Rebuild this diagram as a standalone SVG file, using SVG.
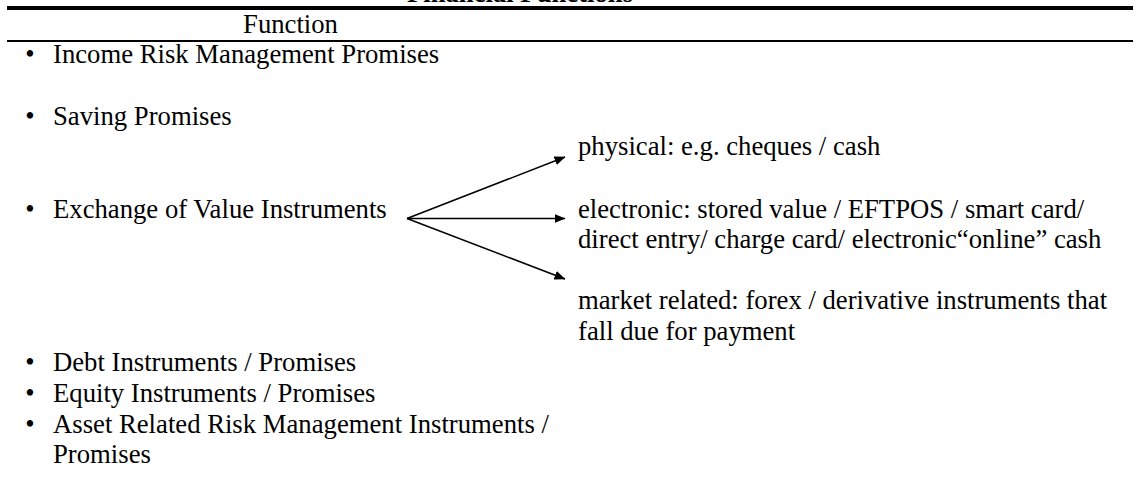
<svg xmlns="http://www.w3.org/2000/svg" width="1138" height="500" viewBox="0 0 1138 500">
<style>
text { font-family: "Liberation Serif", "Times New Roman", serif; font-size: 26.7px; fill: #000; }
.title { font-weight: bold; text-anchor: middle; }
.mid { text-anchor: middle; }
.rule { stroke: #000; }
.conn { stroke: #000; stroke-width: 1.5; fill: none; }
</style>
<defs>
<marker id="arr" markerWidth="11" markerHeight="9" refX="10.5" refY="4.5" orient="auto" markerUnits="userSpaceOnUse">
<path d="M0,0 L11,4.5 L0,9 Z" fill="#000"/>
</marker>
</defs>
<rect width="1138" height="500" fill="#fff"/>
<g id="header">
<text class="title" x="520" y="2">Financial Functions</text>
<line class="rule" x1="7" y1="8" x2="1133" y2="8" stroke-width="4"/>
<text class="mid" x="290.5" y="33">Function</text>
<line class="rule" x1="7" y1="41" x2="1133" y2="41" stroke-width="2"/>
</g>
<g id="income"><text x="30" y="63" class="mid">•</text><text x="53" y="63">Income Risk Management Promises</text></g>
<g id="saving"><text x="30" y="124.6" class="mid">•</text><text x="53" y="124.6">Saving Promises</text></g>
<g id="exchange"><text x="30" y="217.5" class="mid">•</text><text x="53" y="217.5">Exchange of Value Instruments</text></g>
<g id="physical"><text x="578" y="155.4">physical: e.g. cheques / cash</text></g>
<g id="electronic"><text x="578" y="217.5">electronic: stored value / EFTPOS / smart card/</text><text x="578" y="248">direct entry/ charge card/ electronic“online” cash</text></g>
<g id="market"><text x="578" y="309.4">market related: forex / derivative instruments that</text><text x="578" y="340.2">fall due for payment</text></g>
<g id="debt"><text x="30" y="371" class="mid">•</text><text x="53" y="371">Debt Instruments / Promises</text></g>
<g id="equity"><text x="30" y="401.8" class="mid">•</text><text x="53" y="401.8">Equity Instruments / Promises</text></g>
<g id="asset"><text x="30" y="432.6" class="mid">•</text><text x="53" y="432.6">Asset Related Risk Management Instruments /</text><text x="53" y="463.4">Promises</text></g>
<g id="connectors">
<line class="conn" x1="407" y1="218.5" x2="565" y2="157" marker-end="url(#arr)"/>
<line class="conn" x1="407" y1="218.5" x2="565" y2="218.5" marker-end="url(#arr)"/>
<line class="conn" x1="407" y1="218.5" x2="565" y2="279" marker-end="url(#arr)"/>
</g>
</svg>
